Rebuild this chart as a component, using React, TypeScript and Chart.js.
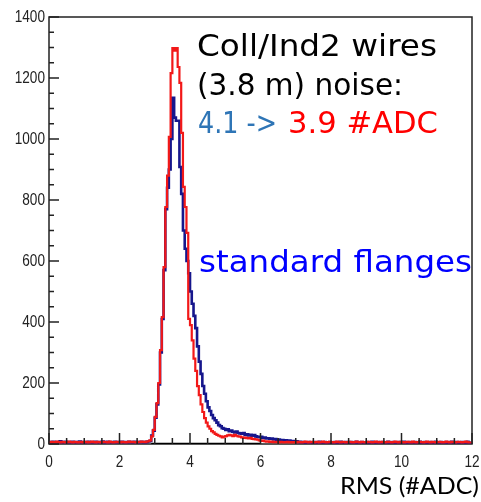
import { useEffect, useRef } from "react";
import { Chart, registerables } from "chart.js";

Chart.register(...registerables);

// Histogram binning (RMS in #ADC)
const BIN_START = 0;
const BIN_WIDTH = 0.05;
const X_MIN = 0;
const X_MAX = 12;
const Y_MIN = 0;
const Y_MAX = 1400;
const xTickLabels = [0, 2, 4, 6, 8, 10, 12];
const yTickLabels = [0, 200, 400, 600, 800, 1000, 1200, 1400];

// Red: after (3.9 #ADC), 240 bins of 0.05
const redCounts = [
  // 0.0 - 1.0
  6, 5, 7, 6, 5, 8, 6, 5, 7, 6, 5, 6, 8, 6, 5, 7, 6, 5, 6, 7,
  // 1.0 - 2.0
  5, 6, 7, 5, 6, 8, 6, 5, 7, 6, 5, 6, 7, 6, 5, 8, 6, 5, 6, 7,
  // 2.0 - 3.0
  6, 5, 7, 6, 5, 6, 8, 6, 7, 6, 5, 7, 6, 8, 7, 6, 8, 9, 12, 25,
  // 3.0 - 4.0
  46, 89, 134, 200, 308, 416, 580, 777, 880, 1007, 1216, 1298, 1290, 1298, 1236, 1184, 1020, 843, 777, 692,
  // 4.0 - 5.0
  410, 390, 340, 280, 240, 190, 160, 130, 105, 85, 70, 58, 50, 42, 38, 33, 30, 27, 25, 22,
  // 5.0 - 6.0
  24, 26, 28, 30, 28, 26, 30, 27, 25, 24, 22, 20, 21, 19, 18, 20, 17, 16, 15, 14,
  // 6.0 - 7.0
  12, 10, 11, 9, 8, 9, 7, 8, 6, 7, 6, 5, 7, 6, 5, 6, 7, 5, 6, 5,
  // 7.0 - 8.0
  6, 5, 7, 6, 5, 6, 8, 6, 5, 7, 6, 5, 6, 7, 5, 6, 8, 6, 5, 6,
  // 8.0 - 9.0
  7, 6, 5, 6, 8, 6, 5, 7, 6, 5, 6, 7, 6, 5, 6, 8, 6, 5, 7, 6,
  // 9.0 - 10.0
  5, 6, 7, 6, 5, 6, 8, 6, 5, 7, 6, 5, 6, 7, 6, 5, 6, 8, 6, 5,
  // 10.0 - 11.0
  7, 6, 5, 6, 7, 6, 5, 8, 6, 5, 6, 7, 6, 5, 6, 8, 6, 5, 7, 6,
  // 11.0 - 12.0
  5, 6, 7, 6, 5, 6, 8, 6, 5, 7, 6, 5, 6, 7, 6, 5, 6, 8, 6, 5,
];

// Blue: before (4.1 #ADC), 240 bins of 0.05
const blueCounts = [
  // 0.0 - 1.0
  5, 6, 5, 7, 6, 5, 6, 9, 5, 6, 7, 5, 6, 5, 7, 6, 5, 6, 8, 5,
  // 1.0 - 2.0
  6, 5, 6, 7, 5, 6, 5, 7, 6, 5, 6, 8, 5, 6, 7, 5, 6, 5, 7, 6,
  // 2.0 - 3.0
  5, 6, 7, 5, 6, 5, 7, 6, 5, 7, 6, 5, 6, 7, 6, 5, 7, 8, 10, 28,
  // 3.0 - 4.0
  44, 86, 130, 195, 300, 410, 570, 770, 840, 900, 1000, 1135, 1070, 1060, 1060, 908, 820, 700, 640, 600,
  // 4.0 - 5.0
  560, 500, 460, 420, 380, 320, 270, 230, 190, 165, 140, 120, 108, 95, 85, 78, 70, 62, 58, 52,
  // 5.0 - 6.0
  50, 46, 48, 42, 44, 40, 38, 41, 36, 35, 34, 36, 30, 32, 28, 30, 27, 29, 25, 24,
  // 6.0 - 7.0
  22, 24, 20, 21, 18, 19, 17, 18, 15, 16, 14, 15, 12, 13, 11, 12, 10, 11, 9, 10,
  // 7.0 - 8.0
  8, 9, 6, 7, 5, 6, 4, 5, 6, 4, 5, 6, 4, 5, 7, 4, 5, 6, 4, 5,
  // 8.0 - 9.0
  6, 4, 5, 6, 4, 5, 7, 4, 5, 6, 4, 5, 6, 4, 5, 7, 4, 5, 6, 4,
  // 9.0 - 10.0
  5, 6, 4, 5, 7, 4, 5, 6, 4, 5, 6, 4, 5, 7, 4, 5, 6, 4, 5, 6,
  // 10.0 - 11.0
  4, 5, 7, 4, 5, 6, 4, 5, 6, 4, 5, 7, 4, 5, 6, 4, 5, 6, 4, 5,
  // 11.0 - 12.0
  7, 4, 5, 6, 4, 5, 6, 4, 5, 7, 4, 5, 6, 4, 5, 6, 4, 5, 7, 4,
];

// Black reference segment along the baseline
const blackRangeX = [2.9, 6.0];
const blackRangeY = [0, 0];

function toSteps(counts: number[]) {
  const pts = counts.map((v, i) => ({ x: BIN_START + i * BIN_WIDTH, y: v }));
  pts.push({ x: BIN_START + counts.length * BIN_WIDTH, y: counts[counts.length - 1] });
  return pts;
}

function fitText(
  ctx: CanvasRenderingContext2D,
  text: string,
  x: number,
  baseline: number,
  targetW: number,
  font: string,
  color: string
) {
  ctx.save();
  ctx.font = font;
  const w = ctx.measureText(text).width;
  ctx.translate(x, baseline);
  ctx.scale(targetW / w, 1);
  ctx.fillStyle = color;
  ctx.textAlign = "left";
  ctx.textBaseline = "alphabetic";
  ctx.fillText(text, 0, 0);
  ctx.restore();
}

function scaledLabel(
  ctx: CanvasRenderingContext2D,
  text: string,
  x: number,
  y: number,
  align: CanvasTextAlign
) {
  ctx.save();
  ctx.font = '17px "Liberation Sans", Arial, sans-serif';
  ctx.fillStyle = "#222";
  ctx.textAlign = align;
  ctx.textBaseline = "middle";
  ctx.translate(x, y);
  ctx.scale(0.8, 1);
  ctx.fillText(text, 0, 0);
  ctx.restore();
}

const framePlugin = {
  id: "rootFrame",
  beforeDatasetsDraw(chart: any) {
    const { ctx, chartArea: a } = chart;
    ctx.save();
    ctx.strokeStyle = "#222";
    ctx.lineWidth = 1.5;
    ctx.strokeRect(a.left, a.top, a.right - a.left, a.bottom - a.top);
    ctx.restore();
  },
  afterDatasetsDraw(chart: any) {
    const { ctx, chartArea: a, scales } = chart;
    const xs = scales.x;
    const ys = scales.y;
    ctx.save();
    ctx.strokeStyle = "#222";
    ctx.lineWidth = 1.5;
    ctx.beginPath();
    for (let v = X_MIN; v <= X_MAX + 1e-9; v += 0.5) {
      const px = xs.getPixelForValue(v);
      const major = Math.abs(v / 2 - Math.round(v / 2)) < 1e-6;
      ctx.moveTo(px, a.bottom);
      ctx.lineTo(px, a.bottom - (major ? 11 : 6));
    }
    for (let v = Y_MIN; v <= Y_MAX + 1e-9; v += 50) {
      const py = ys.getPixelForValue(v);
      const major = v % 200 === 0;
      ctx.moveTo(a.left, py);
      ctx.lineTo(a.left + (major ? 10 : 5), py);
    }
    ctx.stroke();
    ctx.restore();

    xTickLabels.forEach((v) => scaledLabel(ctx, String(v), xs.getPixelForValue(v), a.bottom + 18, "center"));
    yTickLabels.forEach((v) => scaledLabel(ctx, String(v), a.left - 4, ys.getPixelForValue(v), "right"));

    const comic = "DejaVu Sans";
    fitText(ctx, "Coll/Ind2 wires", 197, 56, 240, `30px "${comic}"`, "#000");
    fitText(ctx, "(3.8 m) noise:", 197, 95, 206, `30px "${comic}"`, "#000");
    fitText(ctx, "4.1 ->", 198, 133, 79, `30px "${comic}"`, "#2e75b6");
    fitText(ctx, "3.9 #ADC", 288, 133, 150, `30px "${comic}"`, "#ff0000");
    fitText(ctx, "standard flanges", 199, 272, 273, `31px "${comic}"`, "#0000ff");
    fitText(ctx, "RMS (#ADC)", 340, 494, 139, `23px Lato`, "#000");
  },
};

export default function App() {
  const ref = useRef<HTMLCanvasElement | null>(null);

  useEffect(() => {
    if (!ref.current) return;
    const chart = new Chart(ref.current, {
      type: "line",
      data: {
        datasets: [
          {
            label: "3.9 #ADC",
            data: toSteps(redCounts),
            borderColor: "#f21818",
            borderWidth: 2.2,
            stepped: "after",
            pointRadius: 0,
            fill: false,
            order: 0,
          },
          {
            label: "4.1 #ADC",
            data: toSteps(blueCounts),
            borderColor: "#16168c",
            borderWidth: 2.6,
            stepped: "after",
            pointRadius: 0,
            fill: false,
            order: 1,
          },
          {
            label: "ref",
            data: blackRangeX.map((x, i) => ({ x, y: blackRangeY[i] })),
            borderColor: "#000",
            borderWidth: 2.5,
            pointRadius: 0,
            fill: false,
            order: 2,
          },
        ],
      },
      options: {
        responsive: false,
        animation: false,
        parsing: false as any,
        layout: { padding: { top: 17, right: 9, left: 49, bottom: 58 } },
        plugins: {
          legend: { display: false },
          tooltip: { enabled: false },
          title: { display: false },
        },
        scales: {
          x: { type: "linear", display: false, min: X_MIN, max: X_MAX },
          y: { type: "linear", display: false, min: Y_MIN, max: Y_MAX },
        },
      },
      plugins: [framePlugin],
    });
    return () => chart.destroy();
  }, []);

  return (
    <div style={{ position: "absolute", left: 0, top: 0, width: 481, height: 502, background: "#fff" }}>
      <canvas ref={ref} width={481} height={502} style={{ display: "block", width: 481, height: 502 }} />
    </div>
  );
}
